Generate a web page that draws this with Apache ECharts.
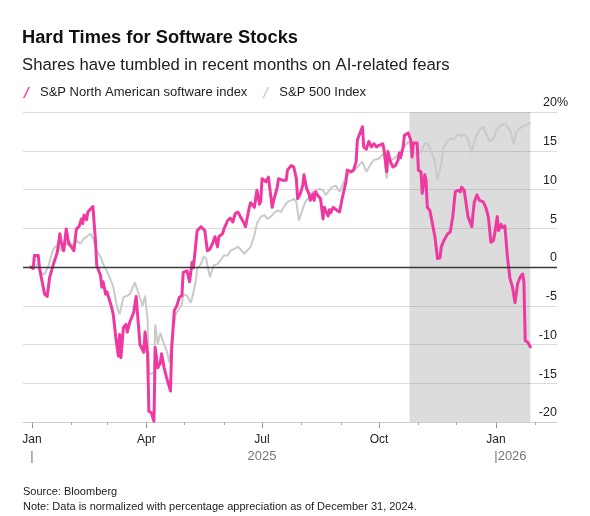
<!DOCTYPE html>
<html><head><meta charset="utf-8">
<script src="https://cdn.jsdelivr.net/npm/echarts@6/dist/echarts.min.js"></script>
<style>html,body{margin:0;padding:0;background:#fff}#c{width:590px;height:516px}</style>
</head><body><div id="c"></div>
<script>
// ---- data (percent change vs Dec 31, 2024) ----
const swName = 'S&P North American software index';
const spxName = 'S&P 500 Index';

const swDates = ['2024-12-31','2025-01-02','2025-01-03','2025-01-06','2025-01-07','2025-01-11','2025-01-13','2025-01-15','2025-01-18','2025-01-21','2025-01-23','2025-01-24','2025-01-26','2025-01-28','2025-01-30','2025-02-01','2025-02-03','2025-02-05','2025-02-07','2025-02-09','2025-02-10','2025-02-11','2025-02-13','2025-02-14','2025-02-18','2025-02-20','2025-02-21','2025-02-24','2025-02-25','2025-02-26','2025-02-28','2025-03-01','2025-03-04','2025-03-06','2025-03-08','2025-03-10','2025-03-11','2025-03-12','2025-03-14','2025-03-16','2025-03-17','2025-03-19','2025-03-22','2025-03-24','2025-03-27','2025-03-30','2025-03-31','2025-04-02','2025-04-03','2025-04-05','2025-04-07','2025-04-08','2025-04-10','2025-04-12','2025-04-13','2025-04-15','2025-04-17','2025-04-20','2025-04-21','2025-04-23','2025-04-25','2025-04-27','2025-04-29','2025-04-30','2025-05-03','2025-05-05','2025-05-07','2025-05-08','2025-05-11','2025-05-14','2025-05-17','2025-05-19','2025-05-21','2025-05-23','2025-05-25','2025-05-27','2025-05-28','2025-05-31','2025-06-01','2025-06-04','2025-06-06','2025-06-08','2025-06-10','2025-06-12','2025-06-14','2025-06-17','2025-06-18','2025-06-21','2025-06-22','2025-06-25','2025-06-27','2025-06-29','2025-06-30','2025-07-01','2025-07-04','2025-07-06','2025-07-09','2025-07-10','2025-07-13','2025-07-14','2025-07-17','2025-07-20','2025-07-21','2025-07-24','2025-07-26','2025-07-28','2025-07-29','2025-07-31','2025-08-02','2025-08-03','2025-08-05','2025-08-07','2025-08-08','2025-08-10','2025-08-11','2025-08-12','2025-08-14','2025-08-16','2025-08-18','2025-08-19','2025-08-20','2025-08-22','2025-08-23','2025-08-24','2025-08-26','2025-08-29','2025-08-31','2025-09-02','2025-09-05','2025-09-06','2025-09-09','2025-09-11','2025-09-13','2025-09-14','2025-09-18','2025-09-19','2025-09-21','2025-09-23','2025-09-25','2025-09-27','2025-09-29','2025-10-01','2025-10-04','2025-10-05','2025-10-07','2025-10-08','2025-10-10','2025-10-12','2025-10-14','2025-10-16','2025-10-17','2025-10-18','2025-10-20','2025-10-21','2025-10-24','2025-10-26','2025-10-27','2025-10-28','2025-10-31','2025-11-01','2025-11-03','2025-11-04','2025-11-05','2025-11-06','2025-11-07','2025-11-08','2025-11-10','2025-11-12','2025-11-14','2025-11-16','2025-11-18','2025-11-19','2025-11-21','2025-11-24','2025-11-26','2025-11-28','2025-11-30','2025-12-02','2025-12-04','2025-12-05','2025-12-07','2025-12-10','2025-12-11','2025-12-13','2025-12-14','2025-12-15','2025-12-17','2025-12-19','2025-12-22','2025-12-24','2025-12-26','2025-12-28','2025-12-30','2025-12-31','2026-01-02','2026-01-03','2026-01-05','2026-01-06','2026-01-08','2026-01-10','2026-01-12','2026-01-14','2026-01-16','2026-01-18','2026-01-20','2026-01-22','2026-01-23','2026-01-24','2026-01-26','2026-01-28'];
const swValues = [0,-0.2,1.5,1.5,-0.2,-3.5,-3.8,-1.3,0.4,1.9,4.3,3.2,2.1,4.9,3.0,2.6,2.1,4.9,5.2,6.2,5.6,6.7,6.1,7.1,7.8,3.4,0.2,-1.1,-2.6,-1.9,-3.5,-3.2,-4.8,-6.1,-9.1,-11.5,-8.7,-11.7,-7.8,-7.4,-8.4,-7.1,-5.9,-3.8,-10.0,-11.0,-8.4,-11.2,-18.6,-18.8,-19.9,-10.4,-13.0,-12.4,-11.2,-13.0,-14.3,-16.0,-10.4,-5.6,-5.0,-3.9,-3.7,-0.7,-0.5,-1.9,0.6,-0.1,4.7,5.2,4.7,2.1,2.3,3.0,3.9,2.6,3.9,4.3,4.9,6.0,6.3,5.8,6.9,7.1,6.5,5.6,5.2,7.7,8.3,7.7,9.9,8.1,8.5,11.4,11.0,11.6,7.7,8.5,10.3,11.4,11.2,11.2,12.5,13.1,12.9,11.4,8.8,9.4,10.5,11.9,10.2,9.4,8.6,9.4,8.6,9.7,9.2,8.8,6.2,7.7,7.3,6.6,7.4,7.0,7.7,7.3,7.1,8.8,11.0,12.5,12.3,12.5,13.6,16.4,18.1,15.5,15.2,16.2,15.5,15.9,15.5,15.7,15.9,15.1,12.3,14.9,13.6,12.9,13.1,13.8,14.7,14.1,15.5,17.0,17.3,16.4,14.2,16.0,16.0,12.5,12.3,9.5,10.6,11.9,11.2,7.7,7.3,5.6,3.9,1.1,1.2,2.6,3.4,4.3,4.5,6.5,9.7,9.9,9.7,10.3,9.9,6.5,6.5,5.2,7.0,8.4,9.3,8.6,8.4,7.7,6.5,3.2,3.4,4.3,6.5,4.7,5.5,5.1,5.3,1.3,-1.5,-2.6,-4.6,-2.2,-1.3,-0.9,-2.0,-9.5,-9.7,-10.3];

const spxDates = ['2024-12-31','2025-01-02','2025-01-06','2025-01-08','2025-01-09','2025-01-11','2025-01-14','2025-01-17','2025-01-19','2025-01-22','2025-01-24','2025-01-27','2025-01-30','2025-02-03','2025-02-05','2025-02-08','2025-02-11','2025-02-13','2025-02-16','2025-02-18','2025-02-21','2025-02-24','2025-02-26','2025-03-01','2025-03-04','2025-03-06','2025-03-09','2025-03-11','2025-03-14','2025-03-17','2025-03-19','2025-03-23','2025-03-26','2025-03-29','2025-03-31','2025-04-02','2025-04-03','2025-04-05','2025-04-07','2025-04-08','2025-04-10','2025-04-12','2025-04-15','2025-04-17','2025-04-19','2025-04-21','2025-04-24','2025-04-26','2025-04-29','2025-04-30','2025-05-03','2025-05-06','2025-05-08','2025-05-10','2025-05-11','2025-05-14','2025-05-16','2025-05-18','2025-05-21','2025-05-24','2025-05-27','2025-05-29','2025-06-01','2025-06-04','2025-06-06','2025-06-09','2025-06-12','2025-06-14','2025-06-17','2025-06-22','2025-06-25','2025-06-27','2025-06-30','2025-07-03','2025-07-05','2025-07-08','2025-07-10','2025-07-13','2025-07-16','2025-07-18','2025-07-21','2025-07-24','2025-07-26','2025-07-28','2025-07-30','2025-08-02','2025-08-04','2025-08-07','2025-08-10','2025-08-12','2025-08-15','2025-08-18','2025-08-20','2025-08-23','2025-08-25','2025-08-28','2025-08-31','2025-09-02','2025-09-05','2025-09-08','2025-09-10','2025-09-13','2025-09-15','2025-09-18','2025-09-21','2025-09-25','2025-09-27','2025-10-01','2025-10-05','2025-10-07','2025-10-09','2025-10-13','2025-10-17','2025-10-21','2025-10-24','2025-10-25','2025-10-29','2025-11-02','2025-11-06','2025-11-08','2025-11-11','2025-11-14','2025-11-16','2025-11-19','2025-11-21','2025-11-24','2025-11-27','2025-11-29','2025-12-02','2025-12-05','2025-12-07','2025-12-10','2025-12-13','2025-12-14','2025-12-17','2025-12-19','2025-12-22','2025-12-24','2025-12-27','2025-12-30','2026-01-01','2026-01-05','2026-01-08','2026-01-11','2026-01-13','2026-01-15','2026-01-17','2026-01-20','2026-01-22','2026-01-25','2026-01-27','2026-01-28'];
const spxValues = [0,-0.2,0.4,-0.5,-0.9,-0.9,0.1,1.9,2.6,2.8,2.1,2.6,3.4,2.6,3.4,3.0,3.7,3.9,4.3,3.7,2.1,1.3,0.4,-0.5,-1.7,-2.6,-5.2,-6.1,-3.9,-3.7,-3.5,-2.0,-3.5,-5.0,-3.7,-6.9,-13.8,-13.8,-13.6,-7.4,-10.0,-8.5,-10.0,-10.8,-12.3,-9.3,-6.1,-5.6,-4.8,-3.5,-3.7,-4.6,-3.3,-1.7,-0.2,0.4,1.3,1.1,-1.3,0.2,0.4,0.8,1.5,1.5,2.1,2.3,2.6,2.3,1.7,2.6,4.1,5.6,6.5,6.7,6.2,6.5,6.9,7.3,7.1,7.7,8.4,8.6,8.8,8.4,6.0,7.5,8.4,9.0,9.7,9.7,10.1,9.9,9.3,9.9,10.3,10.5,9.7,10.5,11.6,12.1,12.3,12.7,13.1,13.6,12.3,13.4,13.8,14.0,14.7,11.4,13.6,14.0,14.7,15.5,16.2,16.4,14.8,14.6,15.9,16.0,15.0,13.6,11.2,13.4,15.5,16.3,16.6,16.4,17.1,16.9,17.2,16.5,14.7,15.7,17.1,17.7,18.1,17.3,16.2,16.5,17.6,18.3,18.5,17.9,17.2,15.8,17.4,17.9,18.2,18.3,18.6,18.4];

const yMin = -20, yMax = 20, yStep = 5;
const xRange = ['2024-12-25','2026-02-18'];
const quarterTicks = ['2025-01-01','2025-04-01','2025-07-01','2025-10-01','2026-01-01'];
const monthTicks = ['2025-01-01','2025-02-01','2025-03-01','2025-04-01','2025-05-01','2025-06-01','2025-07-01','2025-08-01','2025-09-01','2025-10-01','2025-11-01','2025-12-01','2026-01-01','2026-02-01'];
const shadeRange = ['2025-10-25','2026-01-28'];
const monthNames = ['Jan','Feb','Mar','Apr','May','Jun','Jul','Aug','Sep','Oct','Nov','Dec'];

const t = s => { const p = s.split('-').map(Number); return Date.UTC(p[0], p[1]-1, p[2]); };
const FONT = 'Liberation Sans, Arial, Helvetica, sans-serif';
const PINK = '#ee3aa0', GREY = '#cacaca';

const chart = echarts.init(document.getElementById('c'), null, {renderer: 'canvas'});
chart.setOption({
  animation: false,
  backgroundColor: '#fff',
  textStyle: {fontFamily: FONT},
  title: [
    {text: 'Hard Times for Software Stocks', left: 22, top: 29, padding: 0,
     textStyle: {fontFamily: FONT, fontSize: 18.3, fontWeight: 'bold', color: '#111'}},
    {text: 'Shares have tumbled in recent months on AI-related fears', left: 22, top: 57, padding: 0,
     textStyle: {fontFamily: FONT, fontSize: 16.7, fontWeight: 'normal', color: '#222'}}
  ],
  legend: {
    left: 23, top: 86, padding: 0, itemGap: 15, itemWidth: 7, itemHeight: 11,
    textStyle: {fontFamily: FONT, fontSize: 13, color: '#222', padding: [0, 0, 0, 5]},
    data: [
      {name: swName, icon: 'path://M0,11 L5.5,0 L7,0 L1.5,11 Z'},
      {name: spxName, icon: 'path://M0,11 L5.5,0 L7,0 L1.5,11 Z'}
    ],
    selectedMode: false
  },
  grid: {left: 23, right: 33, top: 112, bottom: 94, containLabel: false},
  xAxis: [
    {
      type: 'value', min: t(xRange[0]), max: t(xRange[1]), position: 'bottom',
      axisLine: {show: true, onZero: false, lineStyle: {color: '#cfcfcf', width: 1}},
      axisTick: {show: true, length: 6, lineStyle: {color: '#888'}, customValues: quarterTicks.map(t)},
      splitLine: {show: false},
      axisLabel: {
        customValues: quarterTicks.map(t),
        margin: 10, fontSize: 12, color: '#222', fontFamily: FONT, lineHeight: 16,
        formatter: function (v) {
          const d = new Date(v), mi = d.getUTCMonth(), m = monthNames[mi], y = d.getUTCFullYear();
          if (mi === 0 && y === 2025) return m + '\n{yr||}';
          if (mi === 0) return m + '\n{hid|' + y + '}{yr||' + y + '}';
          if (mi === 6) return m + '\n{yr|' + y + '}';
          return m;
        },
        rich: {
          yr: {fontSize: 13, color: '#777', fontFamily: FONT, lineHeight: 16},
          hid: {fontSize: 13, color: 'rgba(0,0,0,0)', fontFamily: FONT, lineHeight: 16}
        }
      }
    },
    {
      type: 'value', min: t(xRange[0]), max: t(xRange[1]), position: 'bottom', gridIndex: 0,
      axisLine: {show: false, onZero: false},
      axisTick: {show: true, length: 3, lineStyle: {color: '#aaa'}, customValues: monthTicks.map(t)},
      axisLabel: {show: false},
      splitLine: {show: false}
    }
  ],
  yAxis: {
    type: 'value', min: yMin, max: yMax, interval: yStep, position: 'right',
    axisLine: {show: false}, axisTick: {show: false},
    splitLine: {show: true, lineStyle: {color: '#dcdcdc', width: 1}},
    axisLabel: {
      inside: true, margin: -11, verticalAlign: 'bottom', padding: [0, 0, 2, 0],
      fontSize: 12.5, color: '#222', fontFamily: FONT,
      formatter: function (v) {
        return v === yMax ? '{n|' + v + '}{p|%}' : '{n|' + v + '}{h|%}';
      },
      rich: {
        n: {fontSize: 12.5, color: '#222', fontFamily: FONT, lineHeight: 14},
        p: {fontSize: 12.5, color: '#222', fontFamily: FONT, lineHeight: 14},
        h: {fontSize: 12.5, color: 'rgba(0,0,0,0)', fontFamily: FONT, lineHeight: 14}
      }
    }
  },
  series: [
    {
      name: spxName, type: 'line', xAxisIndex: 0, showSymbol: false, symbol: 'none',
      data: spxDates.map((d, i) => [t(d), spxValues[i]]),
      lineStyle: {color: GREY, width: 2}, itemStyle: {color: GREY},
      markArea: {
        silent: true,
        itemStyle: {color: 'rgba(128,128,128,0.28)'},
        data: [[{xAxis: t(shadeRange[0])}, {xAxis: t(shadeRange[1])}]]
      },
      z: 2
    },
    {
      name: swName, type: 'line', xAxisIndex: 0, showSymbol: false, symbol: 'none',
      data: swDates.map((d, i) => [t(d), swValues[i]]),
      lineStyle: {color: PINK, width: 3, join: 'round', cap: 'round'}, itemStyle: {color: PINK},
      markLine: {
        silent: true, symbol: ['none', 'none'], label: {show: false},
        lineStyle: {color: '#3a3a3a', width: 1.3, type: 'solid'},
        data: [{yAxis: 0}]
      },
      z: 3
    }
  ],
  graphic: [
    {type: 'text', left: 23, top: 486, style: {text: 'Source: Bloomberg', font: '11px ' + FONT, fill: '#222'}},
    {type: 'text', left: 23, top: 501, style: {text: 'Note: Data is normalized with percentage appreciation as of December 31, 2024.', font: '11px ' + FONT, fill: '#222'}}
  ]
});
</script>
</body></html>
